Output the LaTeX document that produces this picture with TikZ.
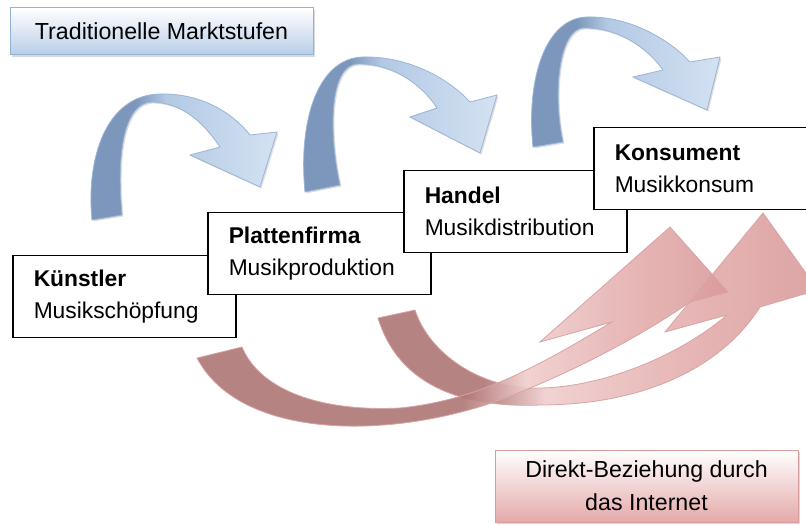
\documentclass[tikz,border=0pt]{standalone}
\usepackage{fontspec}
\setmainfont{Liberation Sans}
\usetikzlibrary{calc,shadows}
\definecolor{arcdark}{HTML}{7C97BB}
\definecolor{arcmid}{HTML}{B3C9E4}
\definecolor{arclight}{HTML}{D4E2F2}
\definecolor{arcedge}{HTML}{9AB5D8}
\definecolor{ribdark}{HTML}{AE7575}
\definecolor{ribpale}{HTML}{EFCDCD}
\definecolor{ribmid}{HTML}{E4AEAE}
\definecolor{ribhead}{HTML}{DA9A9A}
\definecolor{ribedge}{HTML}{D9A3A3}
\definecolor{titleblue}{HTML}{B8CDE8}
\definecolor{titleedge}{HTML}{93B2DA}
\definecolor{netpink}{HTML}{E5A9A9}
\definecolor{netedge}{HTML}{D89C9C}
\pgfdeclarehorizontalshading{bluearc}{100bp}{color(0bp)=(arcdark); color(38bp)=(arcdark); color(46bp)=(arcmid); color(75bp)=(arclight); color(100bp)=(arclight)}
\pgfdeclarehorizontalshading{redarcA}{100bp}{color(0bp)=(ribdark); color(50bp)=(ribdark); color(56bp)=(ribpale); color(66bp)=(ribmid); color(75bp)=(ribhead); color(100bp)=(ribhead)}
\pgfdeclarehorizontalshading{redarcB}{100bp}{color(0bp)=(ribdark); color(37bp)=(ribdark); color(44bp)=(ribpale); color(60bp)=(ribmid); color(75bp)=(ribhead); color(100bp)=(ribhead)}

\begin{document}
\begin{tikzpicture}[x=1pt, y=-1pt,
    stagebox/.style={draw=black, line width=1.5pt, fill=white, anchor=north west,
        minimum height=82pt, text width=181pt, inner xsep=21pt, align=left,
        font=\fontsize{22.8}{32}\selectfont},
    titlebox/.style={draw=titleedge, line width=1pt, top color=white, bottom color=titleblue,
        minimum width=303pt, minimum height=47pt, font=\fontsize{23.2}{26}\selectfont,
        drop shadow={shadow xshift=2pt, shadow yshift=-2pt, opacity=0.3}},
    netbox/.style={draw=netedge, line width=1pt, top color=white, bottom color=netpink,
        minimum width=303pt, minimum height=72pt, align=center, font=\fontsize{23.2}{33}\selectfont,
        drop shadow={shadow xshift=2pt, shadow yshift=-2pt, opacity=0.3}},
    bluearrow/.style={shading=bluearc, draw=arcedge, line width=0.8pt,
        drop shadow={shadow xshift=1.5pt, shadow yshift=-1.5pt, opacity=0.25}},
    redarrow/.style={draw=ribedge, line width=0.8pt, fill opacity=0.9}]
    \useasboundingbox (0,0) rectangle (806,526);

    % Title
    \node[titlebox] (title) at (161.5,31.5) {Traditionelle Marktstufen};

    % Blue arcs between the stages
    \path[bluearrow] (92,220) .. controls (86,160) and (105,95) .. (160,94)
        .. controls (200,93) and (232,112) .. (250,135) -- (277,132) -- (260,187)
        -- (190,155) -- (220,147) .. controls (200,118) and (180,103) .. (152,102)
        .. controls (125,103) and (116,150) .. (122,215) -- cycle;
    \path[bluearrow] (305,192) .. controls (298,120) and (318,58) .. (363,57)
        .. controls (410,56) and (450,80) .. (470,102) -- (497,95) -- (480,153)
        -- (410,117) -- (437,108) .. controls (420,82) and (390,63) .. (357,64)
        .. controls (330,66) and (328,130) .. (340,185) -- cycle;
    \path[bluearrow] (533,147) .. controls (526,80) and (545,18) .. (587,17)
        .. controls (630,16) and (670,40) .. (690,62) -- (720,57) -- (707,110)
        -- (633,77) -- (663,70) .. controls (645,45) and (615,27) .. (583,28)
        .. controls (560,30) and (552,90) .. (563,142) -- cycle;

    % Stages
    \node[stagebox] (artist) at (12,255) {\textbf{Künstler}\\Musikschöpfung};
    \node[stagebox] (label) at (207,212) {\textbf{Plattenfirma}\\Musikproduktion};
    \node[stagebox] (trade) at (403,170) {\textbf{Handel}\\Musikdistribution};
    \node[stagebox] (consumer) at (593,127) {\textbf{Konsument}\\Musikkonsum};

    % Red arcs: direct relation
    \path[redarrow, shading=redarcB] (378,318) .. controls (400,390) and (470,408) .. (540,405)
        .. controls (640,405) and (720,370) .. (760,307) -- (818,290) -- (763,213)
        -- (665,332) -- (727,315) .. controls (680,355) and (600,390) .. (530,388)
        .. controls (480,386) and (430,355) .. (415,310) -- cycle;
    \path[redarrow, shading=redarcA] (197,358) .. controls (240,440) and (390,440) .. (500,400)
        .. controls (580,370) and (650,330) .. (690,302) -- (728,292) -- (670,227)
        -- (540,342) -- (612,322) .. controls (540,365) and (480,400) .. (400,408)
        .. controls (320,412) and (260,390) .. (242,347) -- cycle;

    \node[netbox] (internet) at (646.5,486) {Direkt-Beziehung durch\\das Internet};
\end{tikzpicture}
\end{document}
